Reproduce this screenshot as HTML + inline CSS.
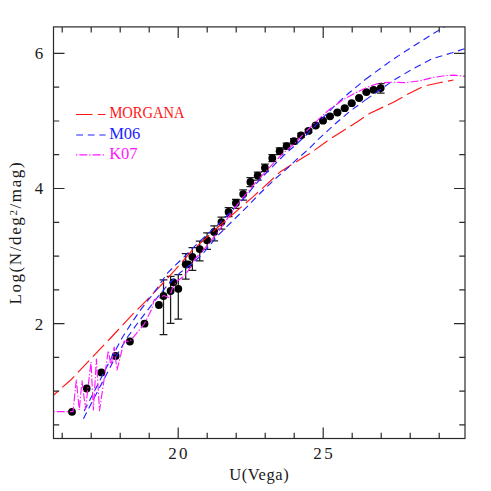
<!DOCTYPE html>
<html><head><meta charset="utf-8"><title>U-band number counts</title>
<style>html,body{margin:0;padding:0;background:#fff;}body{width:491px;height:491px;overflow:hidden;font-family:"Liberation Serif",serif;}svg{display:block;}</style>
</head><body>
<svg width="491" height="491" viewBox="0 0 491 491">
<rect width="491" height="491" fill="#fff"/>
<g stroke="#1c1c1c" stroke-width="1.25" fill="none">
<path d="M163.5,279.8V334.6M159.6,279.8H167.4M159.6,334.6H167.4"/>
<path d="M170.6,276.3V323.4M166.7,276.3H174.5M166.7,323.4H174.5"/>
<path d="M178.3,274.5V319.0M174.4,274.5H182.2M174.4,319.0H182.2"/>
<path d="M185.7,253.6V279.2M181.8,253.6H189.6M181.8,279.2H189.6"/>
<path d="M192.4,247.6V270.3M188.5,247.6H196.3M188.5,270.3H196.3"/>
<path d="M199.7,241.1V260.9M195.8,241.1H203.6M195.8,260.9H203.6"/>
<path d="M207.1,232.9V249.4M203.2,232.9H211.0M203.2,249.4H211.0"/>
<path d="M214.2,225.9V240.8M210.3,225.9H218.1M210.3,240.8H218.1"/>
<path d="M221.4,217.0V229.2M217.5,217.0H225.3M217.5,229.2H225.3"/>
<path d="M228.6,207.5V216.6M224.7,207.5H232.5M224.7,216.6H232.5"/>
<path d="M235.9,199.4V208.3M232.0,199.4H239.8M232.0,208.3H239.8"/>
<path d="M243.2,189.8V200.0M239.3,189.8H247.1M239.3,200.0H247.1"/>
<path d="M250.4,177.7V186.6M246.5,177.7H254.3M246.5,186.6H254.3"/>
<path d="M257.7,172.0V180.0M253.8,172.0H261.6M253.8,180.0H261.6"/>
<path d="M264.9,164.2V171.6M261.0,164.2H268.8M261.0,171.6H268.8"/>
<path d="M272.3,154.7V161.5M268.4,154.7H276.2M268.4,161.5H276.2"/>
<path d="M279.6,147.8V154.6M275.7,147.8H283.5M275.7,154.6H283.5"/>
<path d="M286.6,143.0V149.2M282.7,143.0H290.5M282.7,149.2H290.5"/>
<path d="M293.9,138.6V143.8M290.0,138.6H297.8M290.0,143.8H297.8"/>
<path d="M301.1,133.4V137.2M297.2,133.4H305.0M297.2,137.2H305.0"/>
<path d="M308.5,129.4V132.4M304.6,129.4H312.4M304.6,132.4H312.4"/>
<path d="M315.7,124.4V126.6M311.8,124.4H319.6M311.8,126.6H319.6"/>
<path d="M323.0,119.9V121.5M319.1,119.9H326.9M319.1,121.5H326.9"/>
<path d="M330.0,115.4V117.2M326.1,115.4H333.9M326.1,117.2H333.9"/>
<path d="M337.4,111.7V113.3M333.5,111.7H341.3M333.5,113.3H341.3"/>
<path d="M344.7,107.4V109.0M340.8,107.4H348.6M340.8,109.0H348.6"/>
<path d="M351.7,102.5V104.0M347.8,102.5H355.6M347.8,104.0H355.6"/>
<path d="M359.1,97.2V98.8M355.2,97.2H363.0M355.2,98.8H363.0"/>
<path d="M366.4,91.3V92.9M362.5,91.3H370.3M362.5,92.9H370.3"/>
<path d="M373.6,88.0V91.6M369.7,88.0H377.5M369.7,91.6H377.5"/>
<path d="M380.7,83.7V93.0M376.8,83.7H384.6M376.8,93.0H384.6"/>
</g>
<g fill="#000">
<circle cx="72.0" cy="411.8" r="3.9"/>
<circle cx="86.7" cy="388.5" r="3.9"/>
<circle cx="101.4" cy="372.4" r="3.9"/>
<circle cx="115.6" cy="356.0" r="3.9"/>
<circle cx="129.9" cy="341.5" r="3.9"/>
<circle cx="144.5" cy="323.7" r="3.9"/>
<circle cx="158.9" cy="305.0" r="3.9"/>
<circle cx="163.5" cy="296.0" r="3.9"/>
<circle cx="170.6" cy="291.0" r="3.9"/>
<circle cx="173.4" cy="282.3" r="3.9"/>
<circle cx="178.3" cy="288.8" r="3.9"/>
<circle cx="185.7" cy="264.3" r="3.9"/>
<circle cx="188.2" cy="264.4" r="3.9"/>
<circle cx="192.4" cy="256.8" r="3.9"/>
<circle cx="199.7" cy="249.1" r="3.9"/>
<circle cx="207.1" cy="240.2" r="3.9"/>
<circle cx="214.2" cy="231.9" r="3.9"/>
<circle cx="221.4" cy="222.1" r="3.9"/>
<circle cx="228.6" cy="212.0" r="3.9"/>
<circle cx="235.9" cy="203.0" r="3.9"/>
<circle cx="243.2" cy="194.1" r="3.9"/>
<circle cx="250.4" cy="181.9" r="3.9"/>
<circle cx="257.7" cy="175.6" r="3.9"/>
<circle cx="264.9" cy="167.8" r="3.9"/>
<circle cx="272.3" cy="158.2" r="3.9"/>
<circle cx="279.6" cy="151.2" r="3.9"/>
<circle cx="286.6" cy="146.1" r="3.9"/>
<circle cx="293.9" cy="141.2" r="3.9"/>
<circle cx="301.1" cy="135.3" r="3.9"/>
<circle cx="308.5" cy="130.9" r="3.9"/>
<circle cx="315.7" cy="125.5" r="3.9"/>
<circle cx="323.0" cy="120.7" r="3.9"/>
<circle cx="330.0" cy="116.3" r="3.9"/>
<circle cx="337.4" cy="112.5" r="3.9"/>
<circle cx="344.7" cy="108.2" r="3.9"/>
<circle cx="351.7" cy="103.2" r="3.9"/>
<circle cx="359.1" cy="98.0" r="3.9"/>
<circle cx="366.4" cy="92.1" r="3.9"/>
<circle cx="373.6" cy="89.8" r="3.9"/>
<circle cx="380.7" cy="88.1" r="3.9"/>
</g>
<g fill="none" stroke-width="1.15" stroke-linejoin="round">
<path d="M53.4,395.3 L70.4,380.3 L90.7,358.9 L111.1,337.5 L130.9,316.1 L145.6,301.4 L160.2,286.1 L175.4,269.6 L191.3,251.3 L219.5,225.8 L252.7,197.1 L268.5,182.8 L279.9,172.1 L289.9,165.7 L302.7,157.8 L310.0,153.5 L328.5,140.0 L342.8,130.9 L357.0,122.0 L370.0,113.2 L393.0,102.5 L406.2,95.0 L423.5,86.3 L438.0,83.0 L453.5,80.0" stroke="#ff1414" stroke-dasharray="16.3 5.4" stroke-dashoffset="9.8"/>
<path d="M84.2,411.0 L111.6,357.6 L122.3,337.5 L133.3,320.3 L141.9,308.1 L150.5,297.1 L157.8,287.3 L161.0,282.3 L167.9,272.7 L175.4,265.2 L183.7,257.4 L190.0,250.7 L204.3,237.1 L218.5,224.2 L232.8,210.0 L247.0,195.0 L254.3,185.6 L268.5,170.7 L282.8,156.4 L297.0,143.6 L305.7,135.6 L321.4,119.2 L335.6,104.9 L349.2,92.8 L365.6,79.3" stroke="#2222ff" stroke-dasharray="7 4.5"/>
<path d="M365.6,79.3 L393.0,59.3 L411.4,47.5 L431.7,34.6 L444.3,26.9" stroke="#2222ff" stroke-dasharray="7 4.7"/>
<path d="M83.4,418.7 L113.0,361.8 L127.2,337.5 L137.0,324.0 L146.8,311.2 L156.6,298.3 L166.3,286.7 L170.6,282.0 L180.0,272.8 L188.8,266.0 L194.3,262.0 L204.3,252.0 L218.5,234.9 L232.8,220.7 L247.0,206.8 L261.4,192.0 L275.6,178.5 L285.6,169.9 L297.0,159.2 L308.4,149.3 L318.5,139.1 L335.6,123.5 L349.9,111.3 L365.6,99.9" stroke="#2222ff" stroke-dasharray="7 4.5"/>
<path d="M365.6,99.9 L393.0,80.6 L411.4,69.8 L431.7,58.9 L452.1,52.8 L465.0,48.6" stroke="#2222ff" stroke-dasharray="7 4.7"/>
<path d="M53.4,411.6 L73.0,411.6 L76.3,380.2 L79.3,410.0 L82.0,380.8 L85.5,409.0 L91.0,362.0 L93.4,410.0 L96.4,359.0 L99.5,410.7 L108.3,350.7 L111.0,366.0 L114.2,347.0 L117.0,370.0 L124.2,341.0 L129.9,341.5 L144.4,323.6 L151.7,309.3 L154.1,299.8 L159.0,298.0 L164.0,295.5 L169.4,298.0 L172.5,288.0 L176.6,281.7 L184.9,275.3 L189.4,268.9 L195.0,258.8 L204.3,249.2 L218.5,231.4 L232.8,210.7 L239.2,202.1 L254.3,184.2 L268.5,168.5 L282.8,153.5 L297.0,141.4 L300.0,137.8 L314.3,123.3 L328.5,110.2 L342.8,99.9 L357.0,92.1 L366.5,87.5 L379.7,82.9 L393.0,82.2 L406.2,82.6 L419.4,80.9 L432.7,77.5 L445.9,75.6 L453.8,75.1 L465.0,76.4" stroke="#ff18ff" stroke-dasharray="1.3 2 8 2"/>
</g>
<g stroke="#2a2a2a" stroke-width="1.2" fill="none">
<rect x="53.5" y="26.9" width="411.5" height="411.6"/>
<path d="M62.2,438.5v-5.7M62.2,26.9v5.7M91.2,438.5v-5.7M91.2,26.9v5.7M120.2,438.5v-5.7M120.2,26.9v5.7M149.2,438.5v-5.7M149.2,26.9v5.7M178.2,438.5v-11M178.2,26.9v11M207.2,438.5v-5.7M207.2,26.9v5.7M236.2,438.5v-5.7M236.2,26.9v5.7M265.2,438.5v-5.7M265.2,26.9v5.7M294.2,438.5v-5.7M294.2,26.9v5.7M323.2,438.5v-11M323.2,26.9v11M352.2,438.5v-5.7M352.2,26.9v5.7M381.2,438.5v-5.7M381.2,26.9v5.7M410.2,438.5v-5.7M410.2,26.9v5.7M439.2,438.5v-5.7M439.2,26.9v5.7M53.5,424.9h5.7M465.0,424.9h-5.7M53.5,391.2h5.7M465.0,391.2h-5.7M53.5,357.4h5.7M465.0,357.4h-5.7M53.5,323.6h11M465.0,323.6h-11M53.5,289.8h5.7M465.0,289.8h-5.7M53.5,256.1h5.7M465.0,256.1h-5.7M53.5,222.3h5.7M465.0,222.3h-5.7M53.5,188.5h11M465.0,188.5h-11M53.5,154.7h5.7M465.0,154.7h-5.7M53.5,121.0h5.7M465.0,121.0h-5.7M53.5,87.2h5.7M465.0,87.2h-5.7M53.5,53.4h11M465.0,53.4h-11"/>
</g>
<g font-family="'Liberation Serif', serif" font-size="17" fill="#1a1a1a">
<text x="168.2" y="459.4" textLength="19.4" lengthAdjust="spacing">20</text>
<text x="313.2" y="459.4" textLength="19.5" lengthAdjust="spacing">25</text>
<text x="43.2" y="329.5" text-anchor="end">2</text>
<text x="43.2" y="194.4" text-anchor="end">4</text>
<text x="43.2" y="59.4" text-anchor="end">6</text>
<text x="259.3" y="480.3" font-size="16.5" text-anchor="middle" letter-spacing="0.6">U(Vega)</text>
</g>
<g transform="translate(21.4,304.9) rotate(-90)">
<text x="0.3" y="0" font-family="'Liberation Serif', serif" font-size="17" fill="#1a1a1a" letter-spacing="1.6">Log(N/deg<tspan dy="-4.9" font-size="11">2</tspan><tspan dy="4.9">/mag)</tspan></text>
</g>
<g fill="none" stroke-width="1.1">
<path d="M76,114.5H105.5" stroke="#ff1414" stroke-dasharray="16.5 5.3"/>
<path d="M76.2,135H105.6" stroke="#2222ff" stroke-dasharray="6.8 4.8"/>
<path d="M76,154.9H104" stroke="#ff18ff" stroke-dasharray="1.3 2 8 2"/>
</g>
<g font-family="'Liberation Serif', serif" font-size="16.5">
<text x="109.4" y="118.2" fill="#ff1414" textLength="75.1" lengthAdjust="spacingAndGlyphs">MORGANA</text>
<text x="109.2" y="138.7" fill="#2222ff">M06</text>
<text x="109.2" y="158.7" fill="#ff18ff">K07</text>
</g>
</svg>
</body></html>
